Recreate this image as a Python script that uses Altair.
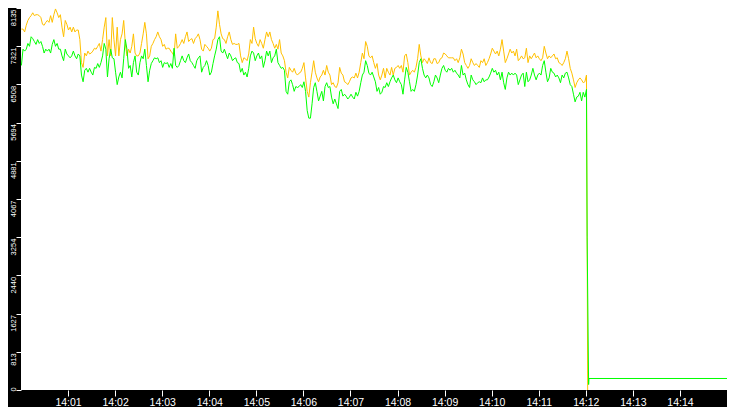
import altair as alt
import pandas as pd

# ---------------- data ----------------
# sampling clock of the recorded series (seconds after 14:00:00)
sample_start_s = 0.5
sample_step_s = 2.07

yellow_vals = [
    7686, 7686, 7625, 7768, 7870, 7931, 7972, 8033, 7972, 7992,
    7992, 7972, 7931, 7788, 7768, 7829, 7870, 7829, 7972, 7829,
    7992, 8115, 8033, 7931, 7992, 7727, 7523, 7870, 7788, 7666,
    7727, 7625, 7727, 7625, 7666, 7666, 7462, 6972, 6870, 7176,
    7115, 7217, 7156, 7176, 7217, 7278, 7258, 7319, 7380, 7217,
    7462, 7727, 7931, 7115, 7462, 7115, 7931, 7462, 7115, 7727,
    7115, 7462, 7584, 7870, 7380, 7115, 7258, 7176, 7319, 7584,
    7176, 7115, 7115, 7176, 7380, 7584, 7829, 7584, 7054, 7115,
    7319, 7380, 7462, 7523, 7625, 7523, 7462, 7319, 7360, 7258,
    # ---
    7278, 7278, 7217, 7176, 7115, 7584, 7278, 7319, 7380, 7462,
    7380, 7523, 7625, 7421, 7462, 7482, 7380, 7482, 7523, 7584,
    7462, 7258, 7217, 7360, 7319, 7278, 7217, 7278, 7462, 7482,
    7727, 8074, 7788, 7584, 7482, 7462, 7380, 7523, 7625, 7462,
    7360, 7380, 7360, 7360, 7380, 7115, 6972, 7074, 7054, 7013,
    7156, 7462, 7380, 7727, 7482, 7380, 7319, 7462, 7380, 7278,
    7462, 7625, 7523, 7625, 7462, 7380, 7278, 7360, 7258, 7462,
    7176, 7115, 7013, 6768, 6646, 6870, 6809, 6768, 6850, 6748,
    6707, 6748, 6768, 6850, 6972, 6646, 6360, 6238,
    # ---
    6544, 6768, 7013, 6768, 6646, 6564, 6666, 6707, 6809, 6707,
    6911, 6768, 6707, 6503, 6544, 6462, 6442, 6544, 6870, 6748,
    6707, 6564, 6544, 6503, 6564, 6646, 6666, 6646, 6748, 6646,
    6768, 6972, 7176, 7054, 7421, 7319, 7115, 7074, 7115, 6972,
    6850, 6952, 6707, 6605, 6707, 6850, 6646, 6850, 6768, 6707,
    6870, 6707, 6850, 6870, 6911, 6850, 6911, 6768, 7115, 7156,
    6972, 6707, 6768, 6809, 6768, 6870, 7054, 7360, 7115, 6972,
    7054, 7013, 6952, 7074, 6972, 6952, 7054, 7054, 6952, 6972,
    7054, 7074, 7176, 7156, 7115, 7074, 7074, 7074,
    # ---
    7074, 7013, 7054, 6972, 7074, 7258, 7156, 6972, 6911, 6850,
    6911, 7054, 6972, 6911, 6952, 6911, 6870, 7013, 6972, 7054,
    6911, 6972, 7054, 7156, 7278, 7217, 7156, 7217, 7115, 7258,
    7462, 7217, 6972, 7054, 7156, 7258, 7176, 7217, 7115, 7258,
    7013, 7054, 7115, 7054, 7074, 7278, 6972, 7115, 7054, 7115,
    7176, 7074, 7115, 7054, 7013, 7074, 7319, 7176, 7054, 7115,
    7074, 7115, 7156, 7054, 7074, 6972, 6952, 6911, 6972, 7054,
    7217, 7054, 6850, 6748, 6605, 6442, 6544, 6605, 6646, 6605,
    6544, 6564, 6707,
]

green_vals = [
    6911, 7258, 7217, 7258, 7380, 7319, 7523, 7482, 7421, 7360,
    7462, 7380, 7421, 7319, 7176, 7258, 7217, 7258, 7176, 7360,
    7462, 7319, 7380, 7258, 7258, 7115, 7013, 7258, 7156, 7115,
    7074, 7115, 7217, 7115, 7054, 7156, 7115, 6707, 6564, 6809,
    6850, 6768, 6850, 6768, 6707, 6870, 6850, 6952, 6870, 6972,
    7115, 7380, 7258, 6666, 7054, 7258, 7074, 7054, 6768, 6503,
    6666, 6768, 6646, 7054, 7462, 7258, 6850, 6911, 6666, 6972,
    7115, 6768, 6707, 6972, 7115, 7054, 7258, 6911, 6564, 6809,
    6952, 7013, 7074, 7054, 7074, 6972, 7013, 6870, 6972, 6952,
    # ---
    6972, 6870, 6952, 6850, 7278, 6911, 6870, 6911, 7013, 7115,
    7013, 6972, 7074, 7156, 7013, 6972, 6911, 6850, 7013, 7074,
    7115, 6768, 6870, 6911, 7013, 6911, 6707, 6768, 6952, 7115,
    7258, 7462, 7523, 7217, 7176, 7258, 7156, 7054, 7176, 7115,
    7013, 7054, 7074, 6972, 6952, 6768, 6850, 6707, 6768, 6666,
    6850, 7115, 7217, 7176, 7013, 7115, 7176, 7054, 7115, 6870,
    7013, 7217, 7115, 7217, 6972, 7074, 7115, 7258, 6972, 6911,
    6850, 6870, 6809, 6360, 6299, 6564, 6605, 6503, 6360, 6462,
    6442, 6462, 6503, 6442, 6564, 6360, 5952, 5789,
    # ---
    5789, 6095, 6442, 6544, 6360, 6156, 6258, 6360, 6156, 6462,
    6544, 6442, 6462, 6238, 6095, 6197, 6095, 5993, 6360, 6401,
    6258, 6299, 6258, 6197, 6238, 6299, 6238, 6197, 6340, 6258,
    6360, 6544, 6707, 6768, 7013, 6911, 6748, 6707, 6768, 6666,
    6564, 6360, 6442, 6299, 6340, 6462, 6442, 6544, 6462, 6564,
    6646, 6707, 6605, 6544, 6646, 6564, 6503, 6299, 6605, 6870,
    6768, 6564, 6360, 6401, 6360, 6503, 6707, 6972, 7054, 6850,
    6707, 6646, 6707, 6646, 6503, 6462, 6564, 6707, 6646, 6544,
    6707, 6850, 6911, 6809, 6768, 6850, 6809, 6850,
    # ---
    6768, 6809, 6748, 6707, 6646, 6911, 6707, 6748, 6605, 6503,
    6442, 6707, 6605, 6564, 6503, 6544, 6564, 6544, 6646, 6564,
    6605, 6605, 6666, 6748, 6850, 6768, 6809, 6707, 6768, 6605,
    6768, 6544, 6401, 6646, 6768, 6707, 6748, 6707, 6748, 6707,
    6503, 6605, 6707, 6748, 6462, 6768, 6564, 6605, 6707, 6850,
    6707, 6605, 6707, 6748, 6707, 6911, 7013, 6768, 6564, 6646,
    6850, 6768, 6748, 6666, 6707, 6646, 6544, 6707, 6646, 6748,
    6768, 6646, 6503, 6462, 6299, 6136, 6238, 6258, 6340, 6156,
    6340, 6238, 6401,
]

# end of recording: drop (seconds after 14:00:00, value)
yellow_tail_t = [721.7, 722.4]
yellow_tail_v = [3273, 0]
green_tail_t = [721.7, 723.6, 724.0, 900.0]
green_tail_v = [3239, 116, 245, 245]

y_ticks = [0, 813.5, 1627, 2440.5, 3254, 4067.5, 4881, 5694.5, 6508, 7321.5, 8135]
x_tick_minutes = list(range(1, 15))
day = dict(year=2024, month=1, date=1)

# ---------------- build table ----------------
base = pd.Timestamp("2024-01-01 14:00:00")


def stamp(sec):
    return (base + pd.to_timedelta(sec, unit="s")).strftime("%Y-%m-%dT%H:%M:%S.%f")[:-3]


def series(vals, tail_t, tail_v, name):
    rows = []
    for i, v in enumerate(vals):
        rows.append({"t": stamp(sample_start_s + i * sample_step_s), "v": v, "s": name})
    for t, v in zip(tail_t, tail_v):
        rows.append({"t": stamp(t), "v": v, "s": name})
    return pd.DataFrame(rows)


df_y = series(yellow_vals, yellow_tail_t, yellow_tail_v, "yellow")
df_g = series(green_vals, green_tail_t, green_tail_v, "green")

x_enc = alt.X(
    "t:T",
    scale=alt.Scale(domain=[alt.DateTime(hours=14, **day), alt.DateTime(hours=14, minutes=15, **day)]),
    axis=alt.Axis(
        values=[alt.DateTime(hours=14, minutes=m, **day) for m in x_tick_minutes],
        format="%H:%M",
        title=None,
        grid=False,
        domain=False,
        tickColor="white",
        tickSize=6,
        labelColor="white",
        labelFont="Liberation Sans",
        labelFontSize=10.5,
        labelPadding=1,
    ),
)
y_enc = alt.Y(
    "v:Q",
    scale=alt.Scale(domain=[0, 8135], nice=False, zero=True),
    axis=alt.Axis(
        values=y_ticks,
        labelExpr="'' + floor(datum.value)",
        title=None,
        grid=False,
        domain=False,
        tickColor="white",
        tickSize=5,
        labelColor="white",
        labelFont="Liberation Sans",
        labelFontSize=7.5,
        labelAngle=270,
        labelAlign={"condition": {"test": "datum.value == 0", "value": "left"}, "value": "right"},
        labelBaseline="alphabetic",
        labelOffset=1,
        labelPadding=1,
    ),
)

line_y = alt.Chart(df_y).mark_line(color="#FFC000", strokeWidth=1).encode(x=x_enc, y=y_enc)
line_g = alt.Chart(df_g).mark_line(color="#00FF00", strokeWidth=1).encode(x=x_enc, y=y_enc)

chart = (
    alt.layer(line_y, line_g)
    .properties(
        width=706,
        height=382,
        autosize=alt.AutoSizeParams(type="none"),
        padding={"left": 13, "top": 0, "right": 0, "bottom": 17},
        background="black",
    )
    .configure_view(fill="white", strokeWidth=0)
)

chart.save("out.html", embed_options={"renderer": "svg", "actions": False})
